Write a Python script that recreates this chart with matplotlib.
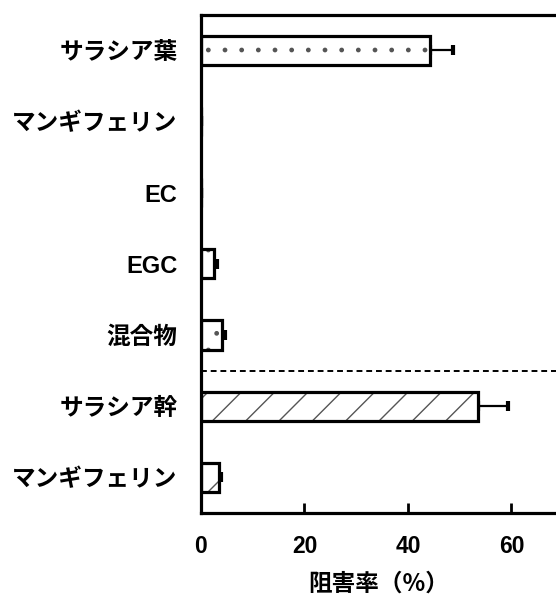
import numpy as np
import matplotlib
matplotlib.use("Agg")
import matplotlib.pyplot as plt

plt.rcParams['font.family'] = ['Liberation Sans', 'Noto Sans CJK JP']
plt.rcParams['hatch.linewidth'] = 1.0

# 阻害率（%）の平均値と誤差
labels = ['サラシア葉', 'マンギフェリン', 'EC', 'EGC', '混合物', 'サラシア幹', 'マンギフェリン']
values = [44.3, 0.0, 0.0, 2.6, 4.0, 53.5, 3.4]
errors = [4.4, 0.0, 0.0, 0.5, 0.6, 5.8, 0.5]
hatches = ['.', '.', '.', '.', '.', '/', '/']

fig = plt.figure(figsize=(5.56, 5.99), dpi=100)
ax = fig.add_axes([201 / 556, 1 - 513 / 599, 1 - 201 / 556, (513 - 14.5) / 599])

y = np.arange(len(labels))
h = 0.41

# 模様（灰色）と黒い枠を別々に描く
for yi, v, ht in zip(y, values, hatches):
    ax.barh(yi, v, height=h, color='white', edgecolor='#555555',
            hatch=ht, linewidth=0, zorder=2)
ax.barh(y, values, height=h, color='none', edgecolor='black',
        linewidth=2.3, zorder=3)

ax.errorbar(values, y, xerr=[np.zeros(len(values)), errors], fmt='none',
            ecolor='black', elinewidth=1.6, capsize=3.6, capthick=3, zorder=1)

ax.axhline(4.5, color='black', linestyle=(0, (3, 2)), linewidth=1.4)

ax.set_xlim(0, 68.6)
ax.set_ylim(6.5, -0.5)
ax.set_xticks([0, 20, 40, 60])
ax.set_yticks(y)
ax.set_yticklabels(labels, fontsize=17, fontweight='bold')
for t in ax.get_xticklabels():
    t.set_fontsize(16.5)
    t.set_fontweight('bold')

ax.tick_params(axis='y', length=0, pad=17)
ax.tick_params(axis='x', direction='in', length=7, width=2, pad=16)

for side in ['left', 'top', 'bottom']:
    ax.spines[side].set_linewidth(2.3)
ax.spines['right'].set_visible(False)

ax.set_xlabel('阻害率（%）', fontsize=17, fontweight='bold', labelpad=10,
              family=['Noto Sans CJK JP'])

fig.savefig('out.png', dpi=100)
